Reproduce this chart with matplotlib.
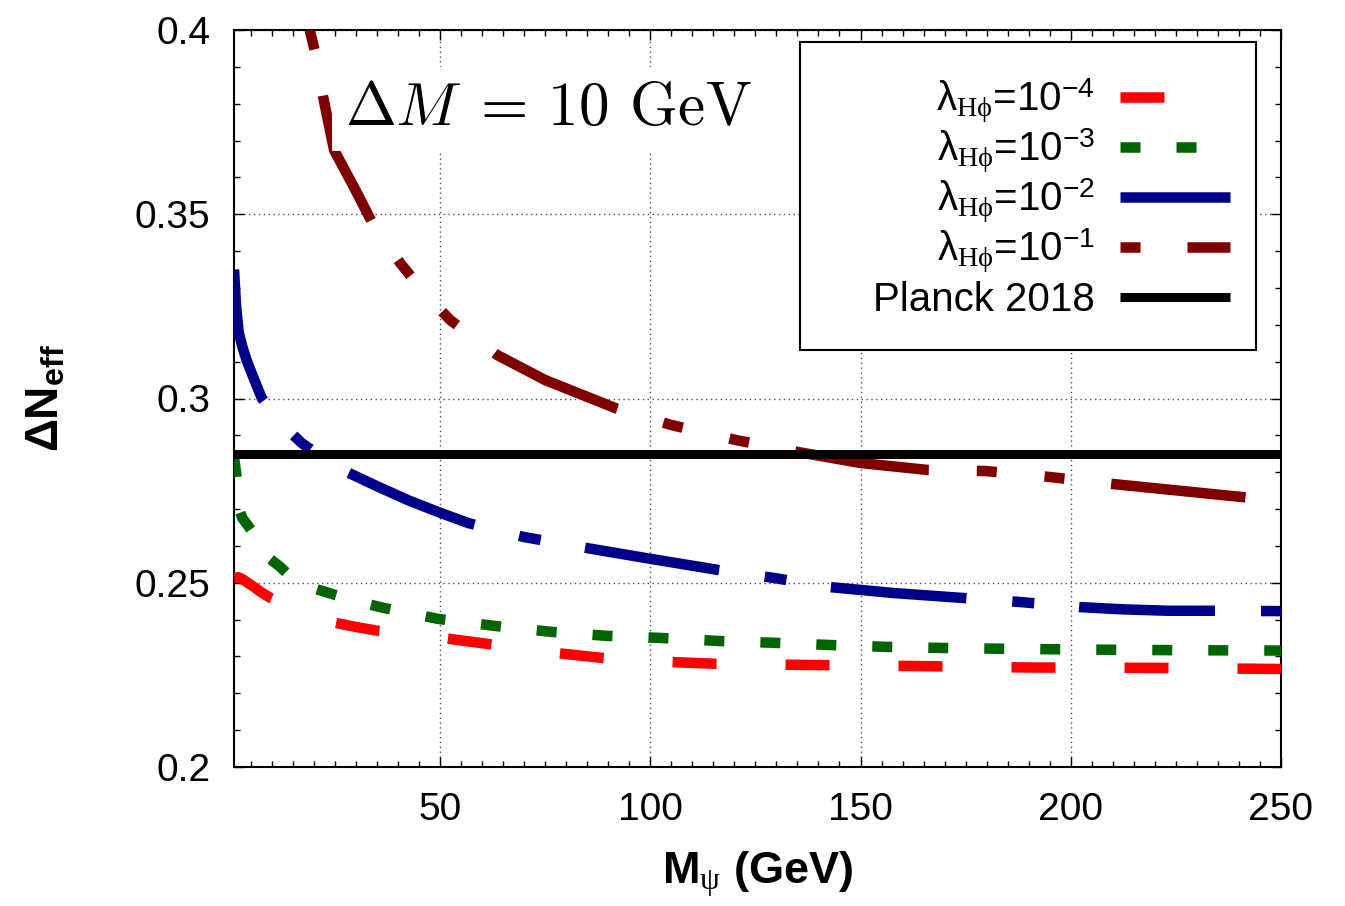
import matplotlib
matplotlib.use('Agg')
import matplotlib.pyplot as plt
import matplotlib.patches as mpatches
import numpy as np

plt.rcParams['font.family'] = ['Liberation Sans', 'DejaVu Sans']
plt.rcParams['mathtext.fontset'] = 'custom'
plt.rcParams['mathtext.rm'] = 'Liberation Serif'
plt.rcParams['mathtext.it'] = 'Liberation Serif:italic'
plt.rcParams['mathtext.bf'] = 'Liberation Sans:bold'
plt.rcParams['mathtext.sf'] = 'Liberation Sans'
plt.rcParams['lines.scale_dashes'] = False

# ---------------- data ----------------
x_l4 = [1, 2, 3, 4, 5.7, 7.5, 9.8, 15, 20, 24.8, 30, 35.5, 43, 51.4, 62, 70, 77.9,
        88.6, 96, 104.5, 115.7, 136.4, 163.3, 190, 220, 250]
y_l4 = [0.2513, 0.2515, 0.2510, 0.2502, 0.2489, 0.2474, 0.2458, 0.2432, 0.2410,
        0.2392, 0.2380, 0.2369, 0.2358, 0.2349, 0.2333, 0.2320, 0.2309, 0.2296,
        0.2290, 0.2285, 0.2280, 0.2277, 0.2274, 0.2270, 0.2269, 0.2266]

x_l3 = [1, 1.6, 2.2, 3, 4, 6.2, 9.3, 12, 14.5, 18.5, 23.6, 30, 36.5, 49.5, 62.9,
        76.2, 89.5, 102.9, 116.2, 129.5, 142.9, 156.2, 169.5, 182.9, 200, 225, 250]
y_l3 = [0.2841, 0.2790, 0.2700, 0.2675, 0.2660, 0.2625, 0.2567, 0.2543, 0.2516,
        0.2490, 0.2472, 0.2450, 0.2432, 0.2402, 0.2383, 0.2367, 0.2356, 0.2350,
        0.2342, 0.2337, 0.2331, 0.2326, 0.2323, 0.2321, 0.2319, 0.2317, 0.2316]

x_l2 = [1, 1.5, 2.1, 3, 4, 5.5, 7.6, 12, 17, 22, 28.3, 35, 42.4, 50, 56.7, 70, 85,
        100, 116, 130, 142, 158, 174, 187.6, 202, 212, 223, 234, 250]
y_l2 = [0.3350, 0.3250, 0.3180, 0.3140, 0.3104, 0.3060, 0.3001, 0.2935, 0.2880,
        0.2840, 0.2798, 0.2762, 0.2724, 0.2690, 0.2662, 0.2624, 0.2594, 0.2565,
        0.2535, 0.2512, 0.2489, 0.2472, 0.2459, 0.2448, 0.2434, 0.2428, 0.2424,
        0.2424, 0.2423]

x_l1 = [19.0, 20.3, 22.2, 24.8, 29.5, 33.8, 40.5, 46, 52.4, 63.6, 75, 91.7, 105,
        120.5, 135, 150, 166, 180, 195, 210, 243]
y_l1 = [0.4000, 0.3940, 0.3818, 0.3674, 0.3574, 0.3479, 0.3368, 0.3290, 0.3213,
        0.3118, 0.3050, 0.2974, 0.2928, 0.2887, 0.2855, 0.2825, 0.2806, 0.2803,
        0.2787, 0.2768, 0.2730]

planck_value = 0.285

series_labels = [r'λ$_{\mathrm{H\phi}}$=10$^{\mathsf{-4}}$',
                 r'λ$_{\mathrm{H\phi}}$=10$^{\mathsf{-3}}$',
                 r'λ$_{\mathrm{H\phi}}$=10$^{\mathsf{-2}}$',
                 r'λ$_{\mathrm{H\phi}}$=10$^{\mathsf{-1}}$',
                 'Planck 2018']

xticks = [50, 100, 150, 200, 250]
xtick_labels = ['50', '100', '150', '200', '250']
yticks = [0.2, 0.25, 0.3, 0.35, 0.4]
ytick_labels = ['0.2', '0.25', '0.3', '0.35', '0.4']

# ---------------- style ----------------
PX = 0.72  # points per pixel at dpi 100
LW = 10.5 * PX
styles = [
    dict(color='#ff0000', dashes=(44 * PX, 69 * PX), offset=0),
    dict(color='#006400', dashes=(20 * PX, 36 * PX), offset=0),
    dict(color='#00008b', dashes=(136 * PX, 46 * PX, 22 * PX, 45 * PX), offset=0),
    dict(color='#800000', dashes=(135 * PX, 48 * PX, 20 * PX, 48 * PX, 20 * PX, 47 * PX),
         offset=251 * PX),
]

fig = plt.figure(figsize=(13.45, 9.06), dpi=100)
ax = fig.add_axes([234 / 1345, 1 - 767 / 906, 1047 / 1345, 737 / 906])
ax.set_xlim(1, 250)
ax.set_ylim(0.2, 0.4)

series = [(x_l4, y_l4), (x_l3, y_l3), (x_l2, y_l2), (x_l1, y_l1)]
for (xs, ys), st, lab in zip(series, styles, series_labels):
    ax.plot(xs, ys, color=st['color'], lw=LW,
            linestyle=(st['offset'], st['dashes']),
            dash_capstyle='butt', solid_capstyle='butt', solid_joinstyle='round',
            dash_joinstyle='round', zorder=3, label=lab)
ax.axhline(planck_value, color='black', lw=9 * PX, zorder=3, label=series_labels[4])

# axes styling
ax.set_xticks(xticks, labels=xtick_labels)
ax.set_yticks(yticks, labels=ytick_labels)
ax.xaxis.set_minor_locator(matplotlib.ticker.MultipleLocator(5))
ax.yaxis.set_minor_locator(matplotlib.ticker.MultipleLocator(0.01))
ax.tick_params(which='both', direction='in', top=True, right=True, width=1.0)
ax.tick_params(which='major', length=7.5, labelsize=28)
ax.tick_params(axis='y', which='major', pad=17)
ax.tick_params(axis='x', which='major', pad=18)
ax.tick_params(which='minor', length=4)
for sp in ax.spines.values():
    sp.set_linewidth(1.5)
ax.grid(True, which='major', linestyle=(0, (1, 2.5)), color='0.3', lw=1.0)
ax.set_axisbelow(True)

ax.set_xlabel(r'M$_{\mathrm{\psi}}$ (GeV)', fontsize=32.5, fontweight='bold')
ax.xaxis.set_label_coords(0.5005, -0.112)
ax.set_ylabel(r'ΔN$_{\mathbf{eff}}$', fontsize=33, fontweight='bold')
ax.yaxis.set_label_coords(-0.158, 0.50)

# annotation
ax.text(27.5, 0.3743, r'$\Delta M\;=\,10\:\,\mathrm{GeV}$', math_fontfamily='cm',
        fontsize=44, ha='left', va='baseline', zorder=4,
        bbox=dict(facecolor='white', edgecolor='none', boxstyle='square,pad=0.22'))

# legend (drawn box, right-aligned labels, samples at right)
def axf(px, py):
    return ((px - 234) / 1047, 1 - (py - 30) / 737)

x0, y0 = axf(800, 350)
x1, y1 = axf(1256, 42)
ax.add_patch(mpatches.Rectangle((x0, y0), x1 - x0, y1 - y0, transform=ax.transAxes,
                                facecolor='white', edgecolor='black', lw=1.5,
                                zorder=5, clip_on=False))
rows_py = [97, 147, 197, 247, 297]
leg_colors = [s['color'] for s in styles] + ['black']
for i, (py, lab) in enumerate(zip(rows_py, series_labels)):
    tx, ty = axf(1095, py + 14)
    ax.text(tx, ty, lab, transform=ax.transAxes, ha='right', va='baseline',
            fontsize=29, zorder=6)
    hx0, hy = axf(1120, py)
    hx1, _ = axf(1230, py)
    if i < 4:
        ls = (styles[i]['offset'], styles[i]['dashes'])
        lw = LW
    else:
        ls = '-'
        lw = 9 * PX
    ax.plot([hx0, hx1], [hy, hy], transform=ax.transAxes, color=leg_colors[i],
            lw=lw, linestyle=ls, solid_capstyle='butt',
            dash_capstyle='butt', zorder=6, clip_on=False)

fig.savefig('out.png', dpi=100)
